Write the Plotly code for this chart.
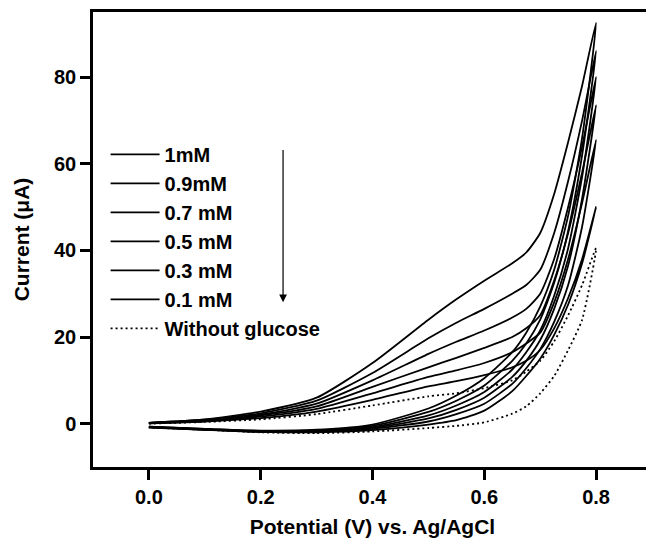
import plotly.graph_objects as go

# Potential grid (V vs Ag/AgCl)
potential = [0.0, 0.1, 0.2, 0.3, 0.4, 0.5, 0.55, 0.6, 0.65, 0.675, 0.7, 0.725, 0.75, 0.775, 0.8]

labels = ["1mM", "0.9mM", "0.7 mM", "0.5 mM", "0.3 mM", "0.1 mM", "Without glucose"]

# Upper branches, current in µA
upper_1mM   = [0.2, 1.0, 2.8, 6.0, 14.0, 24.0, 28.7, 33.0, 37.0, 39.5, 44.0, 53.0, 65.0, 78.0, 92.5]
upper_09mM  = [0.2, 0.9, 2.4, 5.3, 11.7, 19.7, 23.3, 26.5, 30.0, 32.0, 35.5, 44.0, 56.0, 70.0, 86.0]
upper_07mM  = [0.2, 0.8, 2.1, 4.6, 10.0, 16.1, 18.9, 21.5, 24.5, 26.5, 30.0, 38.0, 50.0, 64.0, 80.0]
upper_05mM  = [0.2, 0.7, 1.9, 4.0, 8.5, 13.0, 15.2, 17.5, 20.0, 22.0, 25.0, 33.0, 44.0, 58.0, 73.5]
upper_03mM  = [0.1, 0.6, 1.6, 3.4, 7.0, 10.8, 12.3, 14.0, 16.5, 18.5, 21.0, 28.0, 38.0, 51.0, 65.5]
upper_01mM  = [0.1, 0.5, 1.3, 2.8, 5.5, 8.6, 9.8, 11.2, 13.0, 14.5, 17.0, 22.0, 29.0, 38.0, 50.0]
upper_blank = [0.0, 0.4, 1.0, 2.2, 4.2, 6.3, 7.0, 8.2, 10.0, 12.0, 14.5, 19.0, 25.0, 32.0, 40.5]

# Lower (return) branches, current in µA
lower_1mM   = [-0.7, -1.2, -1.6, -1.4, -0.2, 3.5, 6.5, 10.5, 16.5, 21.0, 27.0, 35.5, 48.0, 66.0, 92.5]
lower_09mM  = [-0.7, -1.2, -1.7, -1.5, -0.5, 2.7, 5.3, 8.8, 14.5, 18.5, 24.0, 32.5, 44.5, 62.0, 86.0]
lower_07mM  = [-0.8, -1.3, -1.8, -1.7, -0.8, 1.9, 4.2, 7.3, 12.5, 16.5, 21.5, 29.5, 40.5, 57.0, 80.0]
lower_05mM  = [-0.8, -1.3, -1.8, -1.8, -1.0, 1.2, 3.2, 6.0, 10.8, 14.5, 19.3, 26.5, 36.5, 52.0, 73.5]
lower_03mM  = [-0.8, -1.4, -1.9, -1.9, -1.2, 0.5, 2.2, 4.6, 9.2, 12.8, 17.2, 23.5, 32.0, 45.5, 65.5]
lower_01mM  = [-0.9, -1.4, -1.9, -2.0, -1.5, -0.2, 0.8, 3.0, 7.5, 11.0, 15.0, 20.5, 27.5, 37.0, 50.0]
lower_blank = [-0.9, -1.4, -2.0, -2.2, -1.8, -1.0, -0.5, 0.3, 2.3, 4.0, 7.0, 11.0, 17.0, 24.0, 40.5]

uppers = [upper_1mM, upper_09mM, upper_07mM, upper_05mM, upper_03mM, upper_01mM, upper_blank]
lowers = [lower_1mM, lower_09mM, lower_07mM, lower_05mM, lower_03mM, lower_01mM, lower_blank]

x_ticks = [0.0, 0.2, 0.4, 0.6, 0.8]
y_ticks = [0, 20, 40, 60, 80]

FONT = "Liberation Sans"

fig = go.Figure()
for lab, up, lo in zip(labels, uppers, lowers):
    xs = potential + potential[::-1][1:]
    ys = up + lo[::-1][1:]
    dotted = lab == "Without glucose"
    fig.add_trace(go.Scatter(
        x=xs, y=ys, mode="lines", name=lab,
        line=dict(color="black", width=1.8, dash="2px,3px" if dotted else "solid",
                  shape="spline", smoothing=0.6),
    ))

axis_common = dict(
    showline=True, linecolor="black", linewidth=2.5, mirror=True,
    ticks="outside", ticklen=10, tickwidth=2.5, tickcolor="black",
    showgrid=False, zeroline=False, automargin=False,
    tickfont=dict(family=FONT, size=20, color="black", weight="bold"),
)

fig.update_xaxes(range=[-0.1, 0.9], tickvals=x_ticks, tickformat=".1f",
                 title=dict(text="Potential (V) vs. Ag/AgCl", standoff=20,
                            font=dict(family=FONT, size=21, color="black", weight="bold")),
                 **axis_common)
fig.update_yaxes(range=[-10, 95], tickvals=y_ticks,
                 title=dict(text="Current (μA)", standoff=19,
                            font=dict(family=FONT, size=21, color="black", weight="bold")),
                 **axis_common)

fig.add_annotation(x=0.24, y=28, ax=0.24, ay=63.5, xref="x", yref="y",
                   axref="x", ayref="y", text="", showarrow=True,
                   arrowhead=2, arrowsize=1.3, arrowwidth=1.2, arrowcolor="black")

# The page body has an 8px margin, so the figure is sized/offset to compensate.
fig.update_layout(
    width=646, height=530,
    margin=dict(l=85, r=2, t=4, b=71),
    paper_bgcolor="white", plot_bgcolor="white",
    showlegend=True,
    legend=dict(x=0.0225, y=0.73, xanchor="left", yanchor="top",
                bgcolor="rgba(0,0,0,0)", borderwidth=0,
                font=dict(family=FONT, size=20, color="black", weight="bold"),
                itemwidth=49),
)

fig.write_html("out.html")
